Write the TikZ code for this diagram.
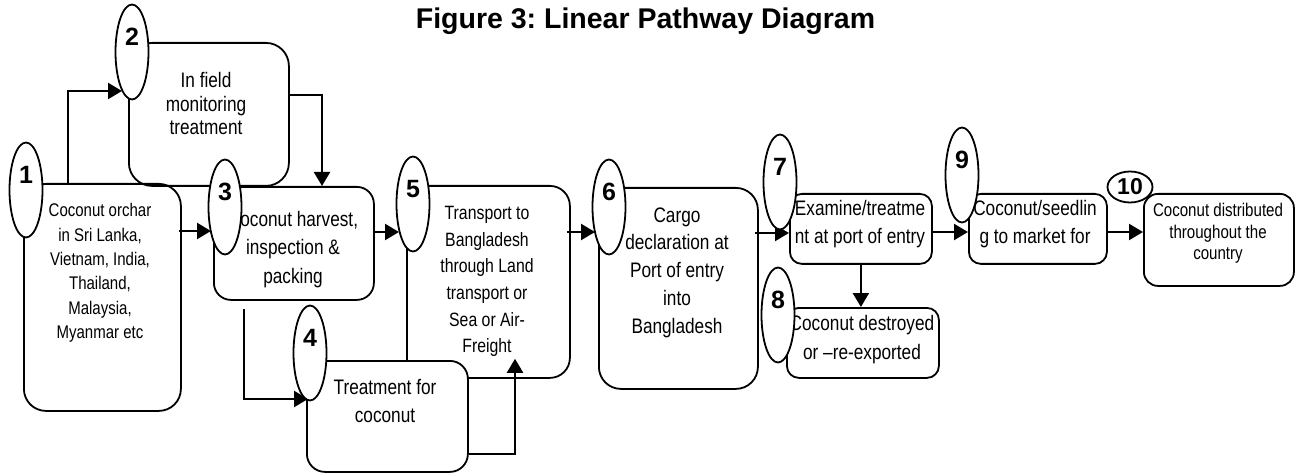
\documentclass[tikz,border=0pt]{standalone}
\usepackage{fontspec}
\setmainfont{Liberation Sans}[FakeStretch=0.82]
\newfontfamily\headfont{Liberation Sans}
\usetikzlibrary{arrows.meta,shapes.geometric,calc}
\frenchspacing

\begin{document}
\begin{tikzpicture}[x=1pt,y=-1pt,
  stepbox/.style={draw, line width=1.8pt, rounded corners=#1, inner sep=0pt, anchor=north west},
  stage/.style={ellipse, draw, fill=white, line width=1.8pt, minimum width=33pt, minimum height=95pt, inner sep=0pt},
  num/.style={font=\headfont\bfseries\fontsize{25}{25}\selectfont, inner sep=0pt},
  txt/.style={align=center, inner sep=0pt},
  big/.style={txt, font=\fontsize{21}{28.3}\selectfont},
  flow/.style={line width=2.3pt, -{Triangle[length=14pt,width=16pt]}}
]
\fill[white] (0,0) rectangle (1296,473);
\useasboundingbox (0,0) rectangle (1296,473);

% title
\node[font=\headfont\bfseries\fontsize{28.5}{28.5}\selectfont, anchor=base, inner sep=0pt] (title) at (645.5,29) {Figure 3: Linear Pathway Diagram};

% stage boxes
\node[stepbox=23pt, minimum width=160pt, minimum height=143pt] (b2) at (128,42) {};
\node[stepbox=22pt, minimum width=157pt, minimum height=227pt] (b1) at (23,183) {};
\node[stepbox=17pt, minimum width=160pt, minimum height=113pt] (b3) at (213,186) {};
\node[stepbox=20pt, minimum width=163pt, minimum height=192pt] (b5) at (406,185) {};
\node[stepbox=18pt, minimum width=161pt, minimum height=111pt, fill=white] (b4) at (306,360) {};
\node[stepbox=22pt, minimum width=159pt, minimum height=201pt] (b6) at (598,187) {};
\node[stepbox=12pt, minimum width=142pt, minimum height=70pt] (b7) at (789,193) {};
\node[stepbox=12pt, minimum width=152pt, minimum height=70pt] (b8) at (786,307) {};
\node[stepbox=12pt, minimum width=138pt, minimum height=70pt] (b9) at (968,193) {};
\node[stepbox=14pt, minimum width=150pt, minimum height=92pt] (b10) at (1143,193) {};

% box texts
\node[txt, font=\fontsize{18.3}{24.4}\selectfont] (t1) at (100,273)
  {Coconut orchar\\in Sri Lanka,\\Vietnam, India,\\Thailand,\\Malaysia,\\Myanmar etc};
\node[txt, font=\fontsize{21}{23.5}\selectfont] (t2) at (206,103.5)
  {In field\\monitoring\\treatment};
\node[big] (t3) at (293,249.5) {Coconut harvest,\\inspection \&\\packing};
\node[big] (t4) at (385,401) {Treatment for\\coconut};
\node[txt, font=\fontsize{19.3}{26.6}\selectfont] (t5) at (487,281.5)
  {Transport to\\Bangladesh\\through Land\\transport or\\Sea or Air-\\Freight};
\node[big, font=\fontsize{21}{27.8}\selectfont] (t6) at (677,272.5)
  {Cargo\\declaration at\\Port of entry\\into\\Bangladesh};
\node[big] (t7) at (860,224) {Examine/treatme\\nt at port of entry};
\node[big] (t8) at (862,339.5) {Coconut destroyed\\or –re-exported};
\node[big] (t9) at (1035,224) {Coconut/seedlin\\g to market for};
\node[txt, font=\fontsize{18.4}{21.5}\selectfont] (t10) at (1218,233.5)
  {Coconut distributed\\throughout the\\country};

% stage ellipse centres
\coordinate (c1) at (26,190);
\coordinate (c2) at (132,52);
\coordinate (c3) at (225,207);
\coordinate (c4) at (310,353);
\coordinate (c5) at (413,204);
\coordinate (c6) at (609,207);

% connectors
\draw[flow] ($(b1.north west)+(45,0)$) |- ($(c2)+(-10,39)$);
\draw[flow] ($(b2.north east)+(0,53)$) -| ($(b3.north west)+(109,0)$);
\draw[flow] ($(b1.north east)+(-3,48)$) -- ($(c3)+(-14,24)$);
\draw[flow] ($(b3.north east)+(0,46)$) -- ($(c5)+(-14,28)$);
\draw[flow] ($(b3.south west)+(31,8)$) |- ($(c4)+(-2,46)$);
\draw[flow] ($(b4.south east)+(0,-19)$) -| ($(b5.south west)+(109,-20)$);
\draw[flow] ($(b5.north east)+(-4,47)$) -- ($(c6)+(-14,25)$);
\draw[flow] ($(b6.north east)+(-4,46)$) -- ($(b7.north west)+(0,40)$);
\draw[flow] ($(b7.north east)+(0,39)$) -- ($(b9.north west)+(0,39)$);
\draw[flow] ($(b9.north east)+(0,39)$) -- ($(b10.north west)+(0,39)$);
\draw[flow] (b7.south) -- (b7.south |- b8.north);

% numbered ellipses
\node[stage] (e1) at (c1) {};
\node[stage] (e2) at (c2) {};
\node[stage] (e3) at (c3) {};
\node[stage] (e4) at (c4) {};
\node[stage] (e5) at (c5) {};
\node[stage] (e6) at (c6) {};
\node[stage] (e7) at (780,182) {};
\node[stage] (e8) at (778,315) {};
\node[stage] (e9) at (962,175) {};
\node[stage, minimum width=45pt, minimum height=31pt, font=\headfont\bfseries\fontsize{23}{23}\selectfont] (e10) at (1130,187) {10};

\foreach \i in {1,...,9} {
  \node[num] (n\i) at ($(e\i.north)+(0,33)$) {\i};
}
\end{tikzpicture}
\end{document}
